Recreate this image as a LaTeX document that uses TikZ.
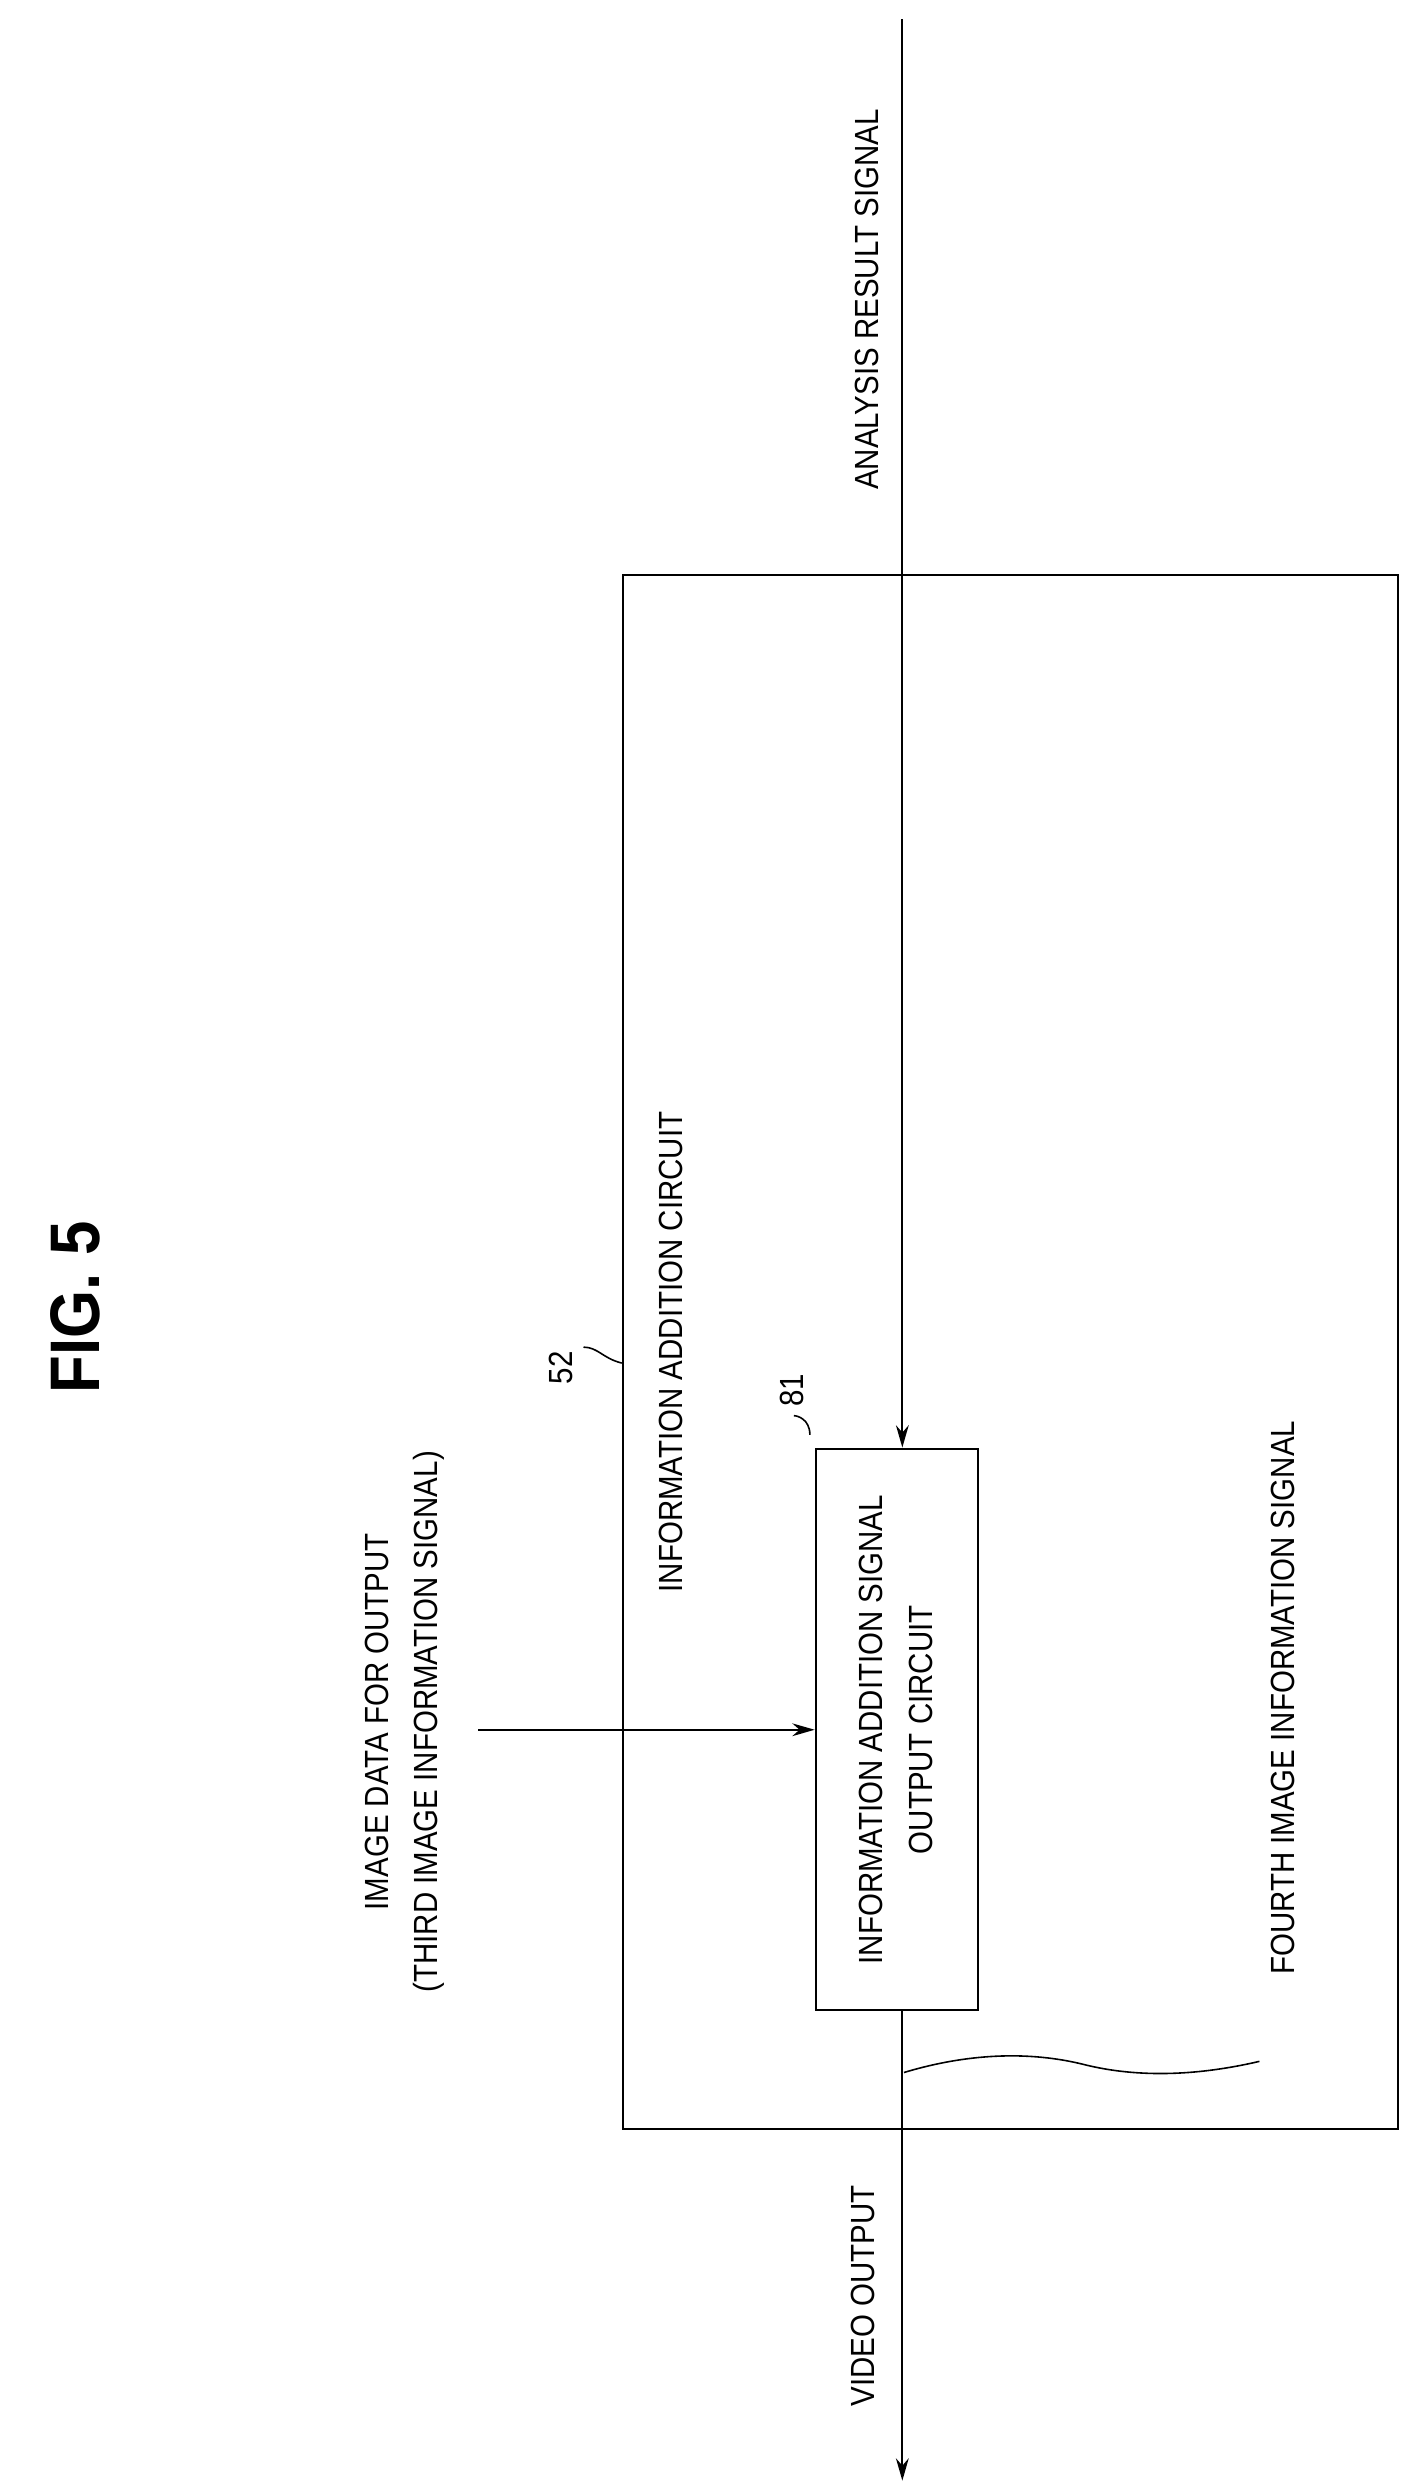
\documentclass[tikz,border=0pt]{standalone}
\usepackage{fontspec}
\setmainfont{Liberation Sans}[FakeStretch=0.88]
\usetikzlibrary{arrows.meta}
\begin{document}
\begin{tikzpicture}[x=1pt,y=-1pt,line width=1.3pt,
  lbl/.style={rotate=90,font=\fontsize{21}{25}\selectfont,inner sep=0pt},
  arr/.style={-{Stealth[length=14pt,width=8pt]}}]
\useasboundingbox (0,0) rectangle (885,1560);
\node[draw,minimum width=486pt,minimum height=975pt,anchor=north west] (outer) at (390,360) {};
\node[draw,minimum width=102pt,minimum height=352pt,anchor=north west] (inner) at (511,908) {};
\node[lbl,align=center] at (562,1085) {INFORMATION ADDITION SIGNAL\\[6pt]OUTPUT CIRCUIT};
\coordinate (top) at (566,12);
\coordinate (bot) at (566,1556);
\coordinate (inL) at (300,1085);
\draw[arr] (top) -- (inner.north -| top);
\draw[arr] (inL) -- (inner.west |- inL);
\draw[arr] (inner.south -| bot) -- (bot);
\node[rotate=90,font=\bfseries\fontsize{44}{50}\selectfont] (fig) at (47,820) {FIG. 5};
\node[lbl] (ars) at (544,188) {ANALYSIS RESULT SIGNAL};
\node[lbl,align=center] (img) at (254,1080) {IMAGE DATA FOR OUTPUT\\[6pt](THIRD IMAGE INFORMATION SIGNAL)};
\node[lbl] (n52) at (352,858) {52};
\node[lbl] (iac) at (421,848) {INFORMATION ADDITION CIRCUIT};
\node[lbl] (n81) at (497,872) {81};
\node[lbl] (fourth) at (805,1065) {FOURTH IMAGE INFORMATION SIGNAL};
\node[lbl] (vo) at (541,1440) {VIDEO OUTPUT};
\draw[line width=1pt] (366,845) .. controls (375,845) and (378,852) .. (390,855);
\draw[line width=1pt] (508,900) .. controls (508,890) and (500,888) .. (498,888);
\draw[line width=1pt] (567,1300) .. controls (600,1290) and (640,1285) .. (680,1295) .. controls (720,1305) and (760,1300) .. (790,1293);
\end{tikzpicture}
\end{document}
